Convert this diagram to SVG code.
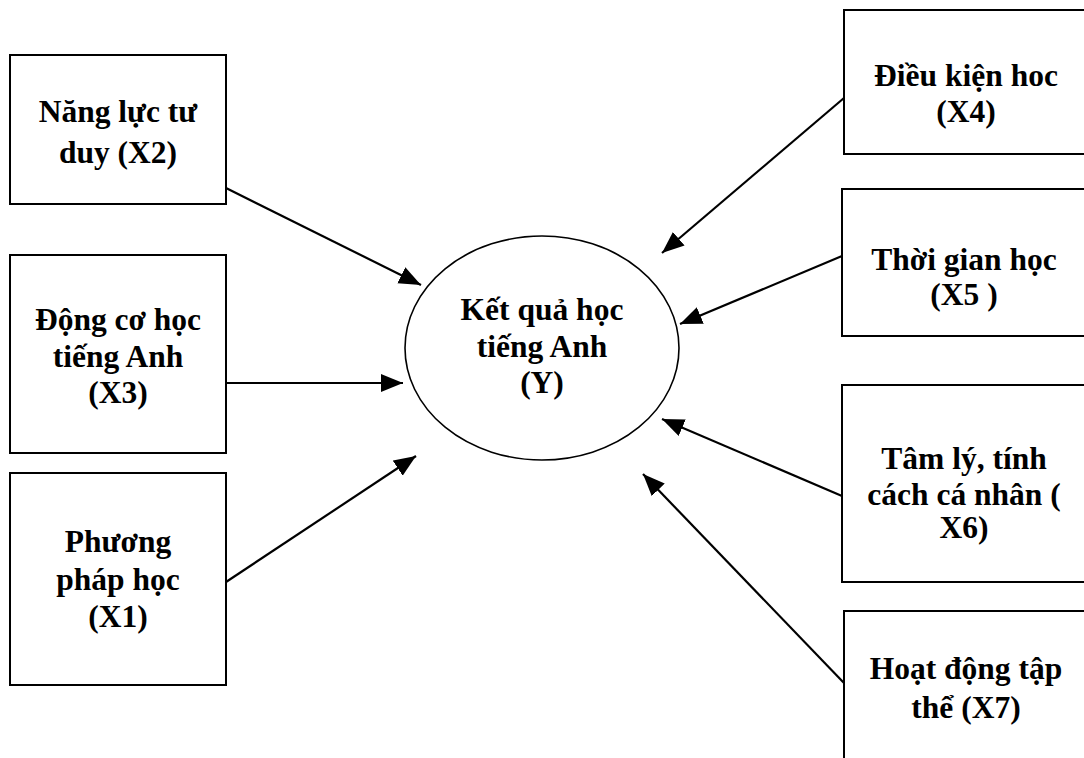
<svg xmlns="http://www.w3.org/2000/svg" width="1084" height="758" viewBox="0 0 1084 758">
<style>
.box{fill:#fff;stroke:#000;stroke-width:2}
.ell{fill:#fff;stroke:#000;stroke-width:1.6}
.t{font-family:"Liberation Serif","Times New Roman",serif;font-weight:bold;font-size:31.5px;fill:#000;text-anchor:middle}
.c{stroke:#000;stroke-width:2.2;fill:none;marker-end:url(#ah)}
</style>
<defs>
<marker id="ah" markerUnits="userSpaceOnUse" markerWidth="24" markerHeight="20" refX="22" refY="9" orient="auto">
<path d="M0,0 L22,9 L0,18 z" fill="#000"/>
</marker>
</defs>
<rect width="1084" height="758" fill="#fff"/>
<g id="connectors">
<line class="c" x1="226" y1="188" x2="421" y2="285"/>
<line class="c" x1="226" y1="383" x2="403" y2="383"/>
<line class="c" x1="226" y1="582" x2="416" y2="456"/>
<line class="c" x1="844" y1="98" x2="662" y2="253"/>
<line class="c" x1="842" y1="256" x2="680" y2="324"/>
<line class="c" x1="842" y1="496" x2="662" y2="419"/>
<line class="c" x1="844" y1="683" x2="643" y2="474"/>
</g>
<g id="node-y">
<ellipse class="ell" cx="542" cy="348" rx="137" ry="112"/>
<text class="t" x="542" y="320">Kết quả học</text>
<text class="t" x="542" y="357">tiếng Anh</text>
<text class="t" x="542" y="393">(Y)</text>
</g>
<g id="node-x2">
<rect class="box" x="10" y="55" width="216" height="149"/>
<text class="t" x="118" y="122">Năng lực tư</text>
<text class="t" x="118" y="163">duy (X2)</text>
</g>
<g id="node-x3">
<rect class="box" x="10" y="255" width="216" height="198"/>
<text class="t" x="118" y="330">Động cơ học</text>
<text class="t" x="118" y="367">tiếng Anh</text>
<text class="t" x="118" y="403">(X3)</text>
</g>
<g id="node-x1">
<rect class="box" x="10" y="473" width="216" height="212"/>
<text class="t" x="118" y="552">Phương</text>
<text class="t" x="118" y="590">pháp học</text>
<text class="t" x="118" y="627">(X1)</text>
</g>
<g id="node-x4">
<rect class="box" x="844" y="10" width="250" height="144"/>
<text class="t" x="966" y="86">Điều kiện hoc</text>
<text class="t" x="966" y="122">(X4)</text>
</g>
<g id="node-x5">
<rect class="box" x="842" y="189" width="250" height="147"/>
<text class="t" x="964" y="270">Thời gian học</text>
<text class="t" x="964" y="305">(X5 )</text>
</g>
<g id="node-x6">
<rect class="box" x="842" y="385" width="250" height="197"/>
<text class="t" x="964" y="469">Tâm lý, tính</text>
<text class="t" x="964" y="505">cách cá nhân (</text>
<text class="t" x="964" y="538">X6)</text>
</g>
<g id="node-x7">
<rect class="box" x="844" y="611" width="250" height="160"/>
<text class="t" x="966" y="679">Hoạt động tập</text>
<text class="t" x="966" y="718">thể (X7)</text>
</g>
</svg>
